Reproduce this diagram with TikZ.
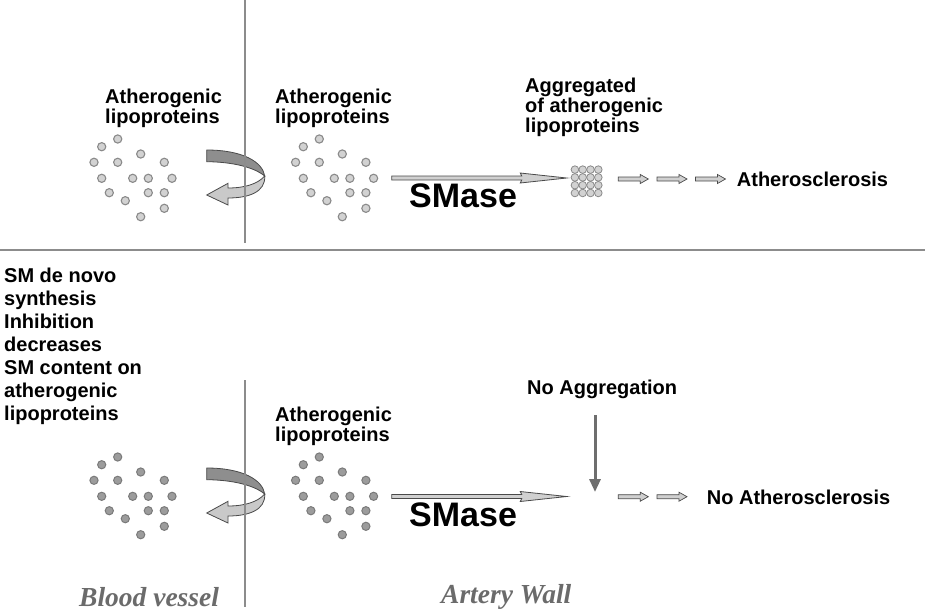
\documentclass[tikz,border=0pt]{standalone}
\usepackage{fontspec}
\setmainfont{Liberation Sans}
\newfontfamily\titlefont{Liberation Serif}
\usetikzlibrary{arrows.meta}
\definecolor{linegray}{HTML}{8C8C8C}
\definecolor{dotfillA}{HTML}{D2D2D2}
\definecolor{dotdrawA}{HTML}{8A8A8A}
\definecolor{dotfillB}{HTML}{9C9C9C}
\definecolor{dotdrawB}{HTML}{7A7A7A}
\definecolor{bandDark}{HTML}{8E8E8E}
\definecolor{bandLight}{HTML}{C9C9C9}
\definecolor{edgeDark}{HTML}{4A4A4A}
\definecolor{arrowFill}{HTML}{D0D0D0}
\definecolor{labelGray}{HTML}{6B6B6B}
\definecolor{downGray}{HTML}{6E6E6E}
\begin{document}
\begin{tikzpicture}[x=1pt,y=-1pt,
  lbl/.style={font=\bfseries\fontsize{20}{20}\selectfont, align=left, inner sep=0pt, anchor=north west},
  blocklbl/.style={font=\bfseries\fontsize{20}{23}\selectfont, align=left, inner sep=0pt, anchor=north west},
  single/.style={font=\bfseries\fontsize{20}{24}\selectfont, inner sep=0pt, anchor=base west},
  big/.style={font=\bfseries\fontsize{34}{38}\selectfont, inner sep=0pt, anchor=base west},
  region/.style={font=\titlefont\bfseries\itshape\fontsize{27.5}{30}\selectfont, text=labelGray, inner sep=0pt, anchor=base west},
  divider/.style={draw=linegray, line width=1.4pt},
  dotA/.style={fill=dotfillA, draw=dotdrawA, line width=1.1pt},
  dotB/.style={fill=dotfillB, draw=dotdrawB, line width=1pt},
  aggdot/.style={fill=dotfillA, draw=dotdrawA, line width=0.8pt},
  shapeedge/.style={draw=edgeDark, line width=0.8pt},
  uturn/.pic={
    \draw[shapeedge, fill=bandDark] (0,0) .. controls (36,0) and (56,12) .. (58,26)
      .. controls (51,20) and (33,12) .. (0,11.7) -- cycle;
    \draw[shapeedge, fill=bandLight] (58,26) .. controls (59,42) and (42,48) .. (21.3,48)
      -- (21.3,55) -- (0,45) -- (21.3,33.3) -- (21.3,38)
      .. controls (38,38) and (51,34) .. (58,26) -- cycle;
  },
  smarrow/.pic={
    \draw[shapeedge, fill=arrowFill] (0,-2) -- (130,-2) -- (128.5,-5) -- (175,0)
      -- (128.5,5) -- (130,2) -- (0,2) -- cycle;
  },
  blockarrow/.pic={
    \draw[draw=edgeDark, line width=0.7pt, fill=arrowFill] (0,-2) -- (22,-2) -- (22,-4.5) -- (30,0)
      -- (22,4.5) -- (22,2) -- (0,2) -- cycle;
  }
]
\useasboundingbox (0,0) rectangle (925,614);
\fill[white] (0,0) rectangle (925,614);

% ---- dots ----
\foreach \px/\py in {117.7/139,101.7/146.7,94/162.3,117.7/162.3,140.7/154,164.3/162.3,
  101.7/178.3,132.7/178.3,148.3/178.3,172/178.3,109.3/192.7,148.3/192.7,164.3/192.7,
  125.3/200.7,164.3/208.3,140.7/216.7}{
  \draw[dotA] (\px,\py) circle[radius=4.1];
  \draw[dotA] (\px+201.6,\py) circle[radius=4.1];
  \draw[dotB] (\px,\py+318) circle[radius=4.1];
  \draw[dotB] (\px+201.6,\py+318) circle[radius=4.1];
}

% ---- aggregate ----
\foreach \i in {0,...,3}{\foreach \j in {0,...,3}{
  \draw[aggdot] (574.9+7.8*\i,169.6+7.8*\j) circle[radius=3.8];
}}

% ---- curved arrows ----
\coordinate (turnTop) at (206.7,150);
\coordinate (turnBot) at (206.7,468);
\pic at (turnTop) {uturn};
\pic at (turnBot) {uturn};

% ---- dividers ----
\coordinate (vTopA) at (245,0);
\coordinate (vTopB) at (245,243);
\coordinate (vBotA) at (245,380);
\coordinate (vBotB) at (245,607);
\coordinate (hA) at (0,250);
\coordinate (hB) at (925,250);
\draw[divider] (vTopA) -- (vTopB);
\draw[divider] (vBotA) -- (vBotB);
\draw[divider] (hA) -- (hB);

% ---- SMase arrows ----
\coordinate (smTop) at (391.7,178);
\coordinate (smBot) at (391.7,496.5);
\pic at (smTop) {smarrow};
\pic at (smBot) {smarrow};
\node[big] (smaseTop) at (409,207) {SMase};
\node[big] (smaseBot) at (409,526) {SMase};

% ---- small arrows ----
\coordinate (ba1) at (618.3,179);
\coordinate (ba2) at (657,179);
\coordinate (ba3) at (695.5,179);
\coordinate (bb1) at (618.3,496.7);
\coordinate (bb2) at (657,496.7);
\pic at (ba1) {blockarrow};
\pic at (ba2) {blockarrow};
\pic at (ba3) {blockarrow};
\pic at (bb1) {blockarrow};
\pic at (bb2) {blockarrow};

% ---- down arrow ----
\coordinate (downA) at (595,415);
\coordinate (downB) at (595,492);
\draw[downGray, line width=3pt, -{Triangle[width=11pt,length=13pt]}] (downA) -- (downB);

% ---- labels ----
\node[lbl] (lblTL) at (105,88.7) {Atherogenic\\lipoproteins};
\node[lbl] (lblTM) at (275,88.7) {Atherogenic\\lipoproteins};
\node[lbl] (lblAgg) at (525,78.2) {Aggregated\\of atherogenic\\lipoproteins};
\node[single] (athero) at (736.7,186) {Atherosclerosis};
\node[blocklbl] (lblBL) at (4,267.7) {SM de novo\\synthesis\\Inhibition\\decreases\\SM content on\\atherogenic\\lipoproteins};
\node[lbl] (lblBM) at (275,406.7) {Atherogenic\\lipoproteins};
\node[single] (noagg) at (527,394) {No Aggregation};
\node[single] (noathero) at (706.7,504) {No Atherosclerosis};
\node[region] (blood) at (79,606) {Blood vessel};
\node[region] (artery) at (441,603) {Artery Wall};
\end{tikzpicture}
\end{document}
